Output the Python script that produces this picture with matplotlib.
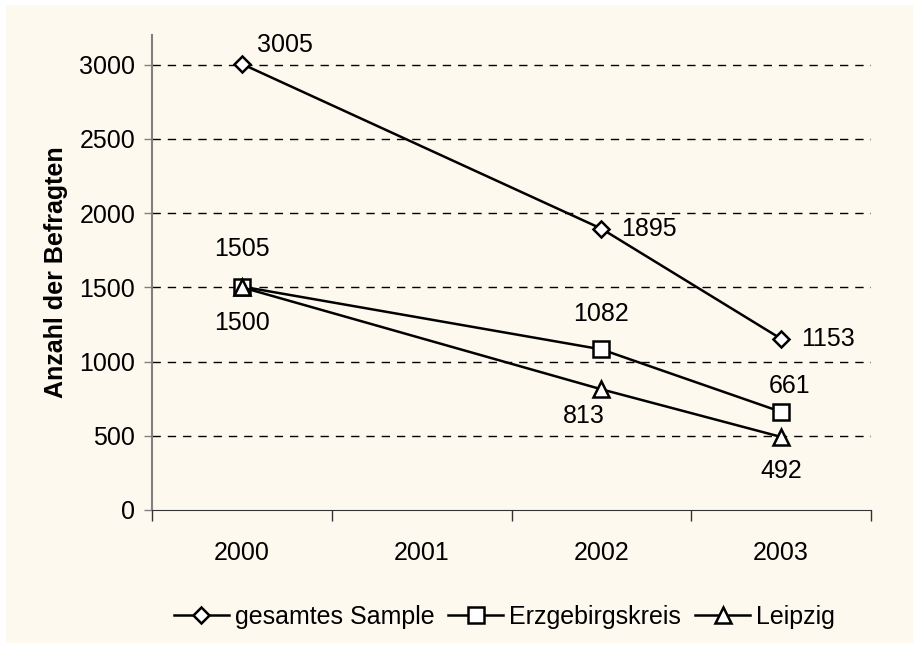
import matplotlib
matplotlib.use("Agg")
import matplotlib.pyplot as plt
from matplotlib.patches import Rectangle

plt.rcParams["font.family"] = ["Liberation Sans", "DejaVu Sans"]

years = ["2000", "2001", "2002", "2003"]
x_gesamt = [0, 2, 3]
gesamt = [3005, 1895, 1153]
x_erz = [0, 2, 3]
erz = [1505, 1082, 661]
x_lei = [0, 2, 3]
leipzig = [1500, 813, 492]
labels = ["gesamtes Sample", "Erzgebirgskreis", "Leipzig"]

bg = "#FEF9EE"
fig = plt.figure(figsize=(9.19, 6.48), dpi=100, facecolor="white")
fig.patches.append(Rectangle((0.006, 0.008), 0.988, 0.984, transform=fig.transFigure,
                             facecolor=bg, edgecolor="none", zorder=-1))
ax = fig.add_axes([0.1654, 0.213, 0.7824, 0.733])
ax.set_facecolor(bg)

mk = dict(color="black", lw=1.8, markerfacecolor="white", markeredgecolor="black",
          markeredgewidth=1.8, clip_on=False, zorder=3)
ax.plot(x_gesamt, gesamt, marker="D", markersize=8, label=labels[0], **mk)
ax.plot(x_erz, erz, marker="s", markersize=11, label=labels[1], **mk)
ax.plot(x_lei, leipzig, marker="^", markersize=12, label=labels[2], **mk)

fs = 18
# data labels: (dx, dy) in pixels, horizontal alignment
gesamt_off = [(15, 19, "left"), (20, 0, "left"), (20, 0, "left")]
erz_off = [(0, 38, "center"), (0, 35, "center"), (8, 26, "center")]
lei_off = [(0, -36, "center"), (-18, -27, "center"), (0, -34, "center")]
for xs, ys, offs in [(x_gesamt, gesamt, gesamt_off), (x_erz, erz, erz_off), (x_lei, leipzig, lei_off)]:
    for xv, yv, (dx, dy, ha) in zip(xs, ys, offs):
        ax.annotate(str(yv), (xv, yv), xytext=(dx, dy), textcoords="offset pixels",
                    ha=ha, va="center", fontsize=fs)

ax.set_xlim(-0.5, 3.5)
ax.set_ylim(0, 3200)
ax.set_yticks(range(0, 3001, 500))
ax.tick_params(axis="y", labelsize=fs, length=6, width=1, color="#808080", pad=6)
ax.set_xticks(range(len(years)))
ax.set_xticklabels(years)
ax.tick_params(axis="x", which="major", length=0, labelsize=fs, pad=22)
ax.set_xticks([-0.5, 0.5, 1.5, 2.5, 3.5], minor=True)
ax.tick_params(axis="x", which="minor", length=8, width=1, color="#333333")

for v in range(500, 3001, 500):
    ax.axhline(v, color="black", lw=1, ls=(0, (6, 5)), zorder=1)

ax.spines["top"].set_visible(False)
ax.spines["right"].set_visible(False)
ax.spines["left"].set_color("#808080")
ax.spines["left"].set_linewidth(1.5)
ax.spines["bottom"].set_color("#333333")

ax.set_ylabel("Anzahl der Befragten", fontsize=fs, fontweight="bold", labelpad=8)

ax.legend(loc="center", bbox_to_anchor=(0.49, -0.225), ncol=3, frameon=False,
          fontsize=fs, handlelength=2.2, handletextpad=0.25, columnspacing=0.55)

fig.savefig("out.png", dpi=100, facecolor=fig.get_facecolor())
